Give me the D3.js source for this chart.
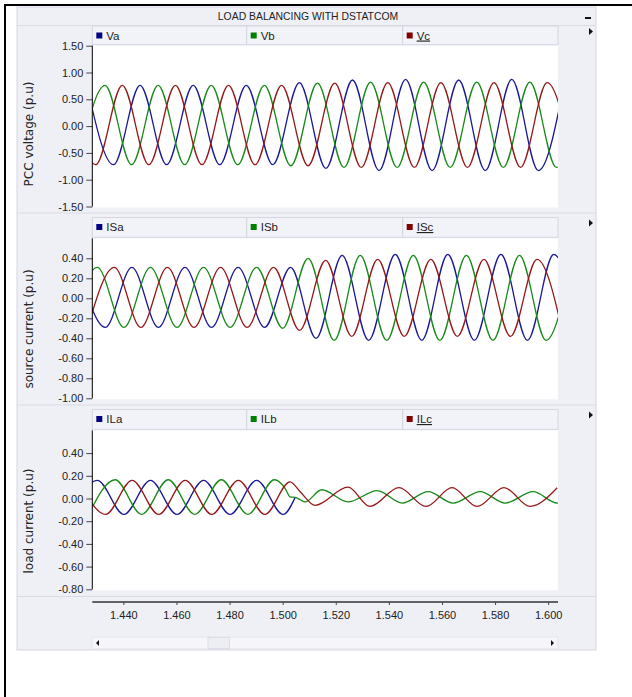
<!DOCTYPE html>
<html>
<head>
<meta charset="utf-8">
<script src="https://cdn.jsdelivr.net/npm/d3@7"></script>
<style>
  body { margin: 0; background: #fff; }
  svg { display: block; font-family: "Liberation Sans", Arial, sans-serif; }
</style>
</head>
<body>
<div id="chart"></div>
<script>

// time window shown by the scope (s) and its tick labels
var timeDomain = [1.4283, 1.6037];
var timeTicks = [1.44, 1.46, 1.48, 1.50, 1.52, 1.54, 1.56, 1.58, 1.60];

// y ticks for each panel
var voltTicks = [-1.5, -1.0, -0.5, 0, 0.5, 1.0, 1.5];
var srcTicks = [-1.0, -0.8, -0.6, -0.4, -0.2, 0, 0.2, 0.4];
var loadTicks = [-0.8, -0.6, -0.4, -0.2, 0, 0.2, 0.4];

// PCC voltages: peaks / troughs [time, p.u]
var Va = [[1.4263,0.75],[1.4363,-0.72],[1.4463,0.76],[1.4563,-0.72],[1.4663,0.76],[1.4763,-0.72],[1.4863,0.76],[1.4963,-0.72],
  [1.5063,0.81],[1.5163,-0.79],[1.5263,0.86],[1.5363,-0.83],[1.5463,0.87],[1.5563,-0.83],[1.5663,0.86],[1.5763,-0.83],
  [1.5863,0.87],[1.5963,-0.83],[1.6063,0.86]];
var Vb = [[1.4231,-0.72],[1.4331,0.76],[1.4431,-0.72],[1.4531,0.76],[1.4631,-0.72],[1.4731,0.76],[1.4831,-0.72],[1.4931,0.76],
  [1.5031,-0.74],[1.5131,0.80],[1.5231,-0.77],[1.5331,0.82],[1.5431,-0.77],[1.5531,0.82],[1.5631,-0.77],[1.5731,0.82],
  [1.5831,-0.77],[1.5931,0.82],[1.6031,-0.77],[1.6131,0.82]];
var Vc = [[1.4196,0.75],[1.4296,-0.72],[1.4396,0.76],[1.4496,-0.72],[1.4596,0.76],[1.4696,-0.72],[1.4796,0.76],[1.4896,-0.72],
  [1.4996,0.76],[1.5096,-0.74],[1.5196,0.80],[1.5296,-0.77],[1.5396,0.81],[1.5496,-0.77],[1.5596,0.81],[1.5696,-0.77],
  [1.5796,0.81],[1.5896,-0.77],[1.5996,0.81],[1.6096,-0.77]];

// source currents
var ISa = [[1.4232,0.31],[1.4332,-0.29],[1.4432,0.31],[1.4532,-0.29],[1.4632,0.31],[1.4732,-0.29],[1.4832,0.31],[1.4932,-0.29],
  [1.5030,0.31],[1.5126,-0.40],[1.5224,0.43],[1.5324,-0.42],[1.5424,0.44],[1.5524,-0.42],[1.5622,0.44],[1.5722,-0.42],
  [1.5822,0.44],[1.5922,-0.42],[1.6021,0.44],[1.6121,-0.42]];
var ISb = [[1.4202,-0.29],[1.4302,0.31],[1.4402,-0.29],[1.4502,0.31],[1.4602,-0.29],[1.4702,0.31],[1.4802,-0.29],[1.4902,0.31],
  [1.5000,-0.30],[1.5096,0.40],[1.5194,-0.42],[1.5292,0.43],[1.5392,-0.42],[1.5492,0.43],[1.5592,-0.42],[1.5692,0.43],
  [1.5792,-0.42],[1.5892,0.43],[1.5992,-0.42],[1.6092,0.43]];
var ISc = [[1.4266,-0.29],[1.4366,0.31],[1.4466,-0.29],[1.4566,0.31],[1.4666,-0.29],[1.4766,0.31],[1.4866,-0.29],[1.4966,0.31],
  [1.5064,-0.32],[1.5162,0.38],[1.5260,-0.38],[1.5358,0.39],[1.5458,-0.38],[1.5558,0.39],[1.5658,-0.38],[1.5758,0.39],
  [1.5858,-0.38],[1.5958,0.39],[1.6058,-0.38]];

// load currents (phase a drops out at ~1.505 s, the rest of its trace hides under ILb)
var ILa = [[1.4202,-0.14],[1.4302,0.16],[1.4402,-0.14],[1.4502,0.16],[1.4602,-0.14],[1.4702,0.16],[1.4802,-0.14],[1.4902,0.16],
  [1.5002,-0.14],[1.5047,0.01]];
var ILb = [[1.4269,-0.14],[1.4369,0.165],[1.4469,-0.14],[1.4569,0.165],[1.4669,-0.14],[1.4769,0.165],[1.4869,-0.14],[1.4969,0.165],
  [1.5009,0.09],[1.5028,0.015],[1.5047,0.01],[1.5066,-0.01],[1.5084,-0.03],[1.5147,0.077],[1.5246,-0.03],[1.5356,0.07],
  [1.5450,-0.04],[1.5548,0.06],[1.5642,-0.04],[1.5744,0.06],[1.5838,-0.04],[1.5943,0.06],[1.6034,-0.04],[1.6140,0.06]];
var ILc = [[1.4233,0.16],[1.4333,-0.14],[1.4433,0.16],[1.4533,-0.14],[1.4633,0.16],[1.4733,-0.14],[1.4833,0.16],[1.4933,-0.14],
  [1.5028,0.147],[1.5066,0.06],[1.5122,-0.06],[1.5246,0.10],[1.5329,-0.07],[1.5438,0.095],[1.5540,-0.07],[1.5638,0.095],
  [1.5732,-0.07],[1.5834,0.095],[1.5932,-0.07],[1.6034,0.095]];

var lineColors = ["#1a1a94", "#188a18", "#961818"];
var keyColors = ["#000080", "#008000", "#800000"];

var W = 632, H = 697,
    plotL = 92.3, plotR = 558,
    bg = "#eff0f6";

var svg = d3.select("#chart").append("svg")
    .attr("width", W)
    .attr("height", H);

// outer frame (top + left edges)
svg.append("rect").attr("x", 4).attr("y", 4).attr("width", W).attr("height", 2).attr("fill", "#000");
svg.append("rect").attr("x", 4).attr("y", 4).attr("width", 2).attr("height", H).attr("fill", "#000");

// scope panel
svg.append("rect")
    .attr("x", 17).attr("y", 7).attr("width", 579).attr("height", 643)
    .attr("fill", bg).attr("stroke", "#d6d7e1");

// title bar
svg.append("line").attr("x1", 17).attr("x2", 596).attr("y1", 25.5).attr("y2", 25.5)
    .attr("stroke", "#dadbe5");
svg.append("text")
    .attr("x", 308).attr("y", 19.5)
    .attr("text-anchor", "middle")
    .style("font-size", "10.4px")
    .attr("fill", "#222")
    .text("LOAD BALANCING WITH DSTATCOM");
svg.append("rect").attr("x", 585).attr("y", 17).attr("width", 6).attr("height", 2).attr("fill", "#111");

var x = d3.scaleLinear().domain(timeDomain).range([plotL, plotR]);

var panels = [
  { legTop: 26, top: 45.7, bottom: 206.5, domain: [-1.5, 1.5], ticks: voltTicks,
    title: "PCC voltage (p.u)", titleY: 134, names: ["Va", "Vb", "Vc"], data: [Va, Vb, Vc] },
  { legTop: 217.5, top: 238.3, bottom: 398.3, domain: [-1, 0.6], ticks: srcTicks,
    title: "source current (p.u)", titleY: 329, names: ["ISa", "ISb", "ISc"], data: [ISa, ISb, ISc] },
  { legTop: 409.5, top: 430.4, bottom: 589.3, domain: [-0.8, 0.6], ticks: loadTicks,
    title: "load current (p.u)", titleY: 521, names: ["ILa", "ILb", "ILc"], data: [ILa, ILb, ILc] }
];

var legendX = [92.3, 246.7, 402.7, 558];

panels.forEach(function(p, i) {
  var g = svg.append("g");

  // separator above the panel
  if (i > 0) {
    g.append("line").attr("x1", 17).attr("x2", 596)
      .attr("y1", p.legTop - 4.5).attr("y2", p.legTop - 4.5)
      .attr("stroke", "#d9dae4");
  }

  // legend row
  for (var k = 0; k < 3; k++) {
    g.append("rect")
      .attr("x", legendX[k]).attr("y", p.legTop)
      .attr("width", legendX[k + 1] - legendX[k]).attr("height", p.top - p.legTop - 1)
      .attr("fill", "#f2f3f8").attr("stroke", "#d5d6e0");
    var lx = legendX[k] + 4;
    g.append("rect")
      .attr("x", lx).attr("y", p.legTop + 6.5)
      .attr("width", 6).attr("height", 6)
      .attr("fill", keyColors[k]);
    var t = g.append("text")
      .attr("x", lx + 10).attr("y", p.legTop + 13.5)
      .style("font-size", "11.5px")
      .attr("fill", "#222")
      .text(p.names[k]);
    if (k == 2) t.style("text-decoration", "underline");
  }

  // little arrow on the right
  g.append("path")
    .attr("d", "M589," + (p.legTop + 2) + "l4,3.5l-4,3.5z")
    .attr("fill", "#111");

  // plot area
  g.append("rect")
    .attr("x", plotL).attr("y", p.top)
    .attr("width", plotR - plotL).attr("height", p.bottom - p.top + 1)
    .attr("fill", "#fff");

  var y = d3.scaleLinear().domain(p.domain).range([p.bottom, p.top]);

  var clipId = "clip" + i;
  g.append("clipPath").attr("id", clipId)
    .append("rect")
      .attr("x", plotL).attr("y", p.top)
      .attr("width", plotR - plotL).attr("height", p.bottom - p.top + 1);

  var line = d3.line()
    .x(function(d) { return x(d[0]); })
    .y(function(d) { return y(d[1]); })
    .curve(d3.curveMonotoneX);

  g.append("g").attr("clip-path", "url(#" + clipId + ")")
    .selectAll("path")
      .data(p.data)
    .enter().append("path")
      .attr("d", line)
      .attr("fill", "none")
      .attr("stroke", function(d, j) { return lineColors[j]; })
      .attr("stroke-width", 1.3);

  // y axis
  var yAxis = d3.axisLeft(y)
    .tickValues(p.ticks)
    .tickSize(6)
    .tickPadding(3)
    .tickFormat(function(d) { return d.toFixed(2); });

  var ax = g.append("g")
    .attr("transform", "translate(" + plotL + ",0)")
    .call(yAxis);
  ax.select(".domain").remove();
  ax.append("line")
    .attr("x1", 0).attr("x2", 0)
    .attr("y1", p.top).attr("y2", p.bottom)
    .attr("stroke", "#000");
  ax.selectAll(".tick line").attr("stroke", "#444");
  ax.selectAll(".tick text")
    .attr("fill", "#222")
    .style("font-size", "11px")
    .style("font-family", "'Liberation Sans', Arial, sans-serif");

  // axis title
  g.append("text")
    .attr("transform", "translate(33," + p.titleY + ") rotate(-90)")
    .attr("text-anchor", "middle")
    .style("font-family", "'DejaVu Sans', sans-serif")
    .style("font-size", "12px")
    .attr("fill", "#222")
    .text(p.title);
});

// shared time axis
svg.append("line").attr("x1", 17).attr("x2", 596).attr("y1", 596.5).attr("y2", 596.5)
    .attr("stroke", "#d9dae4");

var xAxis = d3.axisBottom(x)
  .tickValues(timeTicks)
  .tickSize(3)
  .tickPadding(6)
  .tickFormat(function(d) { return d.toFixed(3); });

var xa = svg.append("g")
  .attr("transform", "translate(0,602)")
  .call(xAxis);
xa.select(".domain").attr("stroke", "#333").attr("stroke-width", 1.5)
  .attr("d", "M" + plotL + ",0H" + plotR);
xa.selectAll(".tick line").attr("stroke", "#444");
xa.selectAll(".tick text")
  .attr("fill", "#222")
  .style("font-size", "11px")
  .style("font-family", "'Liberation Sans', Arial, sans-serif");

// scrollbar under the time axis
var sb = svg.append("g");
sb.append("rect").attr("x", 92).attr("y", 637).attr("width", 466).attr("height", 12)
  .attr("fill", "#f6f6fa").attr("stroke", "#e3e4ec");
sb.append("rect").attr("x", 208).attr("y", 637.5).attr("width", 21.5).attr("height", 11)
  .attr("fill", "#eceef4").attr("stroke", "#dcdde6");
sb.append("path").attr("d", "M99,640l-3,3l3,3z").attr("fill", "#111");
sb.append("path").attr("d", "M551,640l3,3l-3,3z").attr("fill", "#111");

</script>
</body>
</html>
